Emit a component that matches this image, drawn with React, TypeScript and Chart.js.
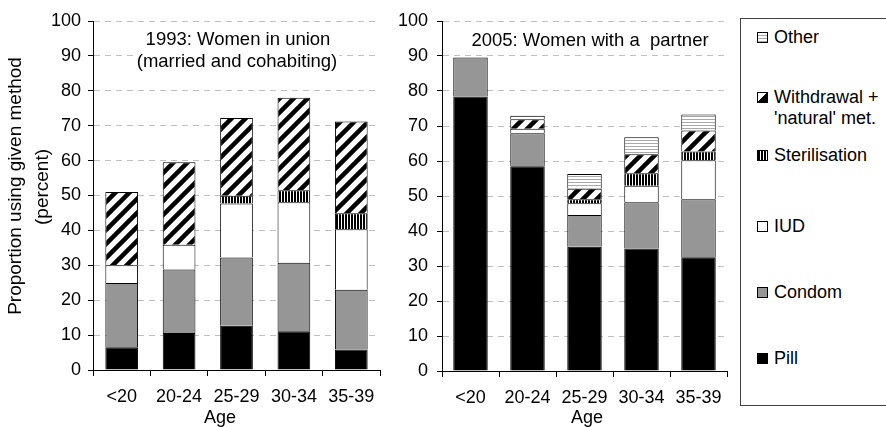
import React, { useEffect, useRef } from 'react';
import { Chart, registerables } from 'chart.js';

Chart.register(...registerables);

// ---------- data ----------
const ageGroups = ['<20', '20-24', '25-29', '30-34', '35-39'];
const methods = ['Pill', 'Condom', 'IUD', 'Sterilisation', "Withdrawal + 'natural' met.", 'Other'];

// 1993: Women in union (married and cohabiting) — segment heights (percent)
const pill1993 = [6.5, 10.6, 12.7, 11.1, 5.9];
const condom1993 = [18.4, 18.2, 19.5, 19.6, 17.1];
const iud1993 = [5.1, 7.1, 15.5, 17.4, 17.3];
const steril1993 = [0, 0, 2.2, 3.4, 4.6];
const withdrawal1993 = [21.0, 23.6, 22.3, 26.5, 26.3];
const other1993 = [0, 0, 0, 0, 0];

// 2005: Women with a partner — segment heights (percent)
const pill2005 = [78.4, 58.5, 35.5, 35.0, 32.5];
const condom2005 = [11.2, 9.4, 9.1, 13.2, 16.6];
const iud2005 = [0, 1.3, 3.3, 4.7, 11.1];
const steril2005 = [0, 0, 1.2, 3.6, 2.5];
const withdrawal2005 = [0, 2.7, 3.0, 5.4, 6.0];
const other2005 = [0, 1.0, 4.2, 4.9, 4.6];

const legendOrder = ['Other', "Withdrawal +\n'natural' met.", 'Sterilisation', 'IUD', 'Condom', 'Pill'];

const FONT = '"Liberation Sans", Arial, Helvetica, sans-serif';

// ---------- patterns ----------
function makePattern(w: number, h: number, draw: (g: CanvasRenderingContext2D) => void) {
  const c = document.createElement('canvas');
  c.width = w;
  c.height = h;
  const g = c.getContext('2d')!;
  g.fillStyle = '#ffffff';
  g.fillRect(0, 0, w, h);
  draw(g);
  return g.createPattern(c, 'repeat')!;
}

function makeFills() {
  const diag = makePattern(14, 14, (g) => {
    g.strokeStyle = '#000';
    g.lineWidth = 4.5;
    g.beginPath();
    g.moveTo(-2, 16); g.lineTo(16, -2);
    g.moveTo(-9, 9); g.lineTo(9, -9);
    g.moveTo(5, 23); g.lineTo(23, 5);
    g.stroke();
  });
  const vert = makePattern(3, 2, (g) => {
    g.fillStyle = '#000';
    g.fillRect(0, 0, 2, 2);
  });
  const horiz = makePattern(4, 3, (g) => {
    g.fillStyle = '#a8a8a8';
    g.fillRect(0, 2, 4, 1);
  });
  return ['#000000', '#969696', '#ffffff', vert, diag, horiz];
}

type TextItem = { text: string; x: number; y: number; rotate?: boolean; bg?: boolean; size?: number };

function textPlugin(items: TextItem[]) {
  return {
    id: 'overlayText',
    beforeDatasetsDraw(chart: any) {
      const ctx = chart.ctx as CanvasRenderingContext2D;
      for (const t of items) {
        if (!t.bg) continue;
        ctx.save();
        ctx.font = `${t.size || 18}px ${FONT}`;
        const w = ctx.measureText(t.text).width;
        ctx.fillStyle = '#fff';
        ctx.fillRect(t.x - w / 2 - 2, t.y - 11, w + 4, 22);
        ctx.restore();
      }
    },
    afterDraw(chart: any) {
      const ctx = chart.ctx as CanvasRenderingContext2D;
      for (const t of items) {
        ctx.save();
        ctx.font = `${t.size || 18}px ${FONT}`;
        ctx.fillStyle = '#000';
        ctx.textAlign = 'center';
        ctx.textBaseline = 'middle';
        ctx.translate(t.x, t.y);
        if (t.rotate) ctx.rotate(-Math.PI / 2);
        ctx.fillText(t.text, 0, 0);
        ctx.restore();
      }
    },
  };
}

function buildConfig(
  series: number[][],
  fills: any[],
  o: { yWidth: number; xHeight: number; padRight: number; barPct: number; texts: TextItem[]; yPad: number }
): any {
  return {
    type: 'bar',
    data: {
      labels: ageGroups,
      datasets: methods.map((m, i) => ({
        label: m,
        data: series[i],
        backgroundColor: fills[i],
        borderColor: '#000',
        borderWidth: { top: 1, left: 1, right: 1, bottom: 0 },
        borderSkipped: false,
        barPercentage: o.barPct,
        categoryPercentage: 1,
      })),
    },
    options: {
      responsive: false,
      animation: false,
      devicePixelRatio: 1,
      layout: { padding: { left: 0, top: 21, right: o.padRight, bottom: 0 } },
      plugins: {
        legend: { display: false },
        tooltip: { enabled: false },
        title: { display: false },
      },
      scales: {
        x: {
          stacked: true,
          offset: true,
          grid: {
            display: true,
            drawOnChartArea: false,
            drawTicks: true,
            offset: true,
            tickLength: 6,
            tickColor: '#000',
            color: '#000',
          },
          border: { display: true, color: '#000', width: 1 },
          ticks: { color: '#000', font: { family: FONT, size: 18 }, padding: 10, maxRotation: 0 },
          afterFit: (s: any) => { s.height = o.xHeight; },
        },
        y: {
          stacked: true,
          min: 0,
          max: 100,
          ticks: { stepSize: 10, color: '#000', font: { family: FONT, size: 18 }, padding: o.yPad },
          grid: {
            color: '#c0c0c0',
            lineWidth: 1,
            drawTicks: true,
            tickLength: 5,
            tickColor: '#000',
            tickBorderDash: [],
          },
          border: { display: true, color: '#000', width: 1, dash: [6, 5] },
          afterFit: (s: any) => { s.width = o.yWidth; },
        },
      },
    },
    plugins: [textPlugin(o.texts)],
  };
}

// ---------- legend swatches ----------
const swatchStyles: Record<string, React.CSSProperties> = {
  Other: { background: 'repeating-linear-gradient(to bottom, #fff 0px, #fff 2px, #a8a8a8 2px, #a8a8a8 3px)' },
  "Withdrawal +\n'natural' met.": { background: 'linear-gradient(to bottom right, #fff 0%, #fff 45%, #000 45%, #000 100%)' },
  Sterilisation: { background: 'repeating-linear-gradient(to right, #000 0px, #000 2px, #fff 2px, #fff 3px)' },
  IUD: { background: '#fff' },
  Condom: { background: '#969696' },
  Pill: { background: '#000' },
};
const legendTextY = [37, 97, 155, 226, 292, 358];

export default function App() {
  const ref1 = useRef<HTMLCanvasElement>(null);
  const ref2 = useRef<HTMLCanvasElement>(null);

  useEffect(() => {
    const fills = makeFills();
    const c1 = new Chart(
      ref1.current!,
      buildConfig(
        [pill1993, condom1993, iud1993, steril1993, withdrawal1993, other1993],
        fills,
        {
          yWidth: 93,
          xHeight: 57,
          padRight: 15,
          barPct: 0.57,
          yPad: 7,
          texts: [
            { text: '1993: Women in union', x: 238, y: 40, bg: true, size: 18.5 },
            { text: '(married and cohabiting)', x: 237, y: 62, bg: true, size: 18.5 },
            { text: 'Age', x: 220, y: 418 },
            { text: 'Proportion using given method', x: 16, y: 186, rotate: true, size: 19 },
            { text: '(percent)', x: 43, y: 187, rotate: true, size: 19 },
          ],
        }
      )
    );
    const c2 = new Chart(
      ref2.current!,
      buildConfig(
        [pill2005, condom2005, iud2005, steril2005, withdrawal2005, other2005],
        fills,
        {
          yWidth: 52,
          xHeight: 56,
          padRight: 13,
          barPct: 0.605,
          yPad: 9,
          texts: [
            { text: '2005: Women with a  partner', x: 200, y: 41, bg: false, size: 18.5 },
            { text: 'Age', x: 197, y: 418 },
          ],
        }
      )
    );
    return () => {
      c1.destroy();
      c2.destroy();
    };
  }, []);

  return (
    <div
      style={{
        position: 'fixed',
        left: 0,
        top: 0,
        width: 886,
        height: 427,
        overflow: 'hidden',
        background: '#fff',
        fontFamily: FONT,
      }}
    >
      <canvas ref={ref1} width={395} height={427} style={{ position: 'absolute', left: 0, top: 0, width: 395, height: 427 }} />
      <canvas ref={ref2} width={350} height={427} style={{ position: 'absolute', left: 390, top: 0, width: 350, height: 427 }} />
      <div
        style={{
          position: 'absolute',
          left: 740,
          top: 18,
          width: 160,
          height: 386,
          borderTop: '1px solid #404040',
          borderLeft: '1px solid #404040',
          borderBottom: '1px solid #404040',
          background: '#fff',
        }}
      />
      {legendOrder.map((name, i) => {
        const lines = name.split('\n');
        return (
          <div key={name}>
            <div
              style={{
                position: 'absolute',
                left: 757,
                top: legendTextY[i] - 5,
                width: 9,
                height: 9,
                border: '1px solid #000',
                ...swatchStyles[name],
              }}
            />
            {lines.map((ln, j) => (
              <div
                key={j}
                style={{
                  position: 'absolute',
                  left: 774,
                  top: legendTextY[i] + j * 21 - 11,
                  height: 22,
                  lineHeight: '22px',
                  fontSize: 18,
                  color: '#000',
                  whiteSpace: 'pre',
                }}
              >
                {ln}
              </div>
            ))}
          </div>
        );
      })}
    </div>
  );
}
